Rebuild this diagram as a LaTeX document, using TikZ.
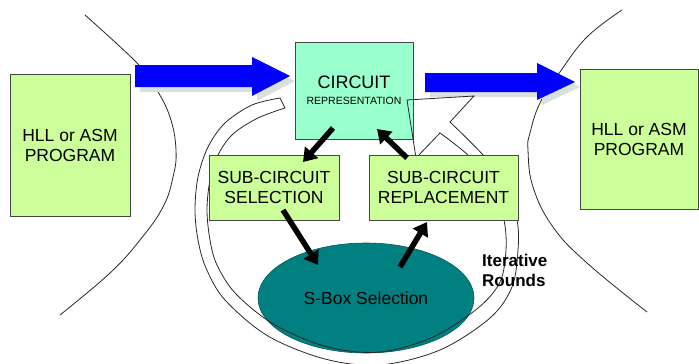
\documentclass[tikz,border=0pt]{standalone}
\usepackage{fontspec}
\setmainfont{Liberation Sans}
\usetikzlibrary{arrows.meta,shapes.geometric}
\definecolor{boxgreen}{RGB}{204,255,153}
\definecolor{circgreen}{RGB}{153,255,204}
\definecolor{sboxteal}{RGB}{0,128,128}
\definecolor{flowblue}{RGB}{0,0,255}
\definecolor{flowshadow}{RGB}{216,224,224}
\definecolor{edgegray}{RGB}{70,70,70}
\definecolor{inkgray}{RGB}{40,40,40}

\begin{document}
\begin{tikzpicture}[x=1pt,y=-1pt,
  stagebox/.style={draw=edgegray, line width=1pt, fill=boxgreen, align=center,
    inner sep=0pt, text=black, font=\fontsize{17.5}{20}\selectfont},
  circbox/.style={stagebox, fill=circgreen},
  flowarrow/.style={line width=5.5pt, -{Triangle[width=17pt,length=13pt]}},
  bigflow/.style={fill=flowblue},
  bigshadow/.style={fill=flowshadow},
  boundary/.style={draw=inkgray, line width=0.8pt},
  ringline/.style={draw=inkgray, line width=0.8pt},
  note/.style={font=\bfseries\fontsize{17}{20}\selectfont, align=left, inner sep=0pt}]

\useasboundingbox (0,0) rectangle (699,364);

% boundary curves on either side of the transformation stage
\draw[boundary] plot[smooth, tension=0.7] coordinates {(85,15) (137,63) (155,87) (170,117)
  (176,150) (173,177) (163,207) (140,240) (110,273) (60,315)};
\draw[boundary] plot[smooth, tension=0.7] coordinates {(622,10) (587,37) (560,72) (540,103)
  (530,133) (528,150) (533,187) (553,227) (587,263) (647,312)};

% program boxes
\node[stagebox, minimum width=120pt, minimum height=142pt] (hllL) at (70,145) {HLL or ASM\\PROGRAM};
\node[stagebox, minimum width=118pt, minimum height=140pt] (hllR) at (639,139) {HLL or ASM\\PROGRAM};

% wide flow arrows (shadow first)
\coordinate (inS) at (135,76);
\coordinate (outS) at (425,82.5);
\fill[bigshadow] ([shift={(5,5)}]inS) ++(0,-11) -- ++(117,0) -- ++(0,-8) -- ++(38,19)
  -- ++(-38,20) -- ++(0,-9) -- ++(-117,0) -- cycle;
\fill[bigflow] (inS) ++(0,-11) -- ++(117,0) -- ++(0,-8) -- ++(38,19)
  -- ++(-38,20) -- ++(0,-9) -- ++(-117,0) -- cycle;
\fill[bigshadow] ([shift={(5,5)}]outS) ++(0,-9.5) -- ++(112,0) -- ++(0,-10) -- ++(38,19)
  -- ++(-38,18) -- ++(0,-8) -- ++(-112,0) -- cycle;
\fill[bigflow] (outS) ++(0,-9.5) -- ++(112,0) -- ++(0,-10) -- ++(38,19)
  -- ++(-38,18) -- ++(0,-8) -- ++(-112,0) -- cycle;

% circuit representation
\node[circbox, minimum width=118pt, minimum height=97pt] (circ) at (354,90.5)
  {\fontsize{18}{20}\selectfont CIRCUIT\\[-4pt]{\fontsize{10.5}{12}\selectfont REPRESENTATION}};

% S-box selection
\node[ellipse, fill=sboxteal, draw=sboxteal!70!black, line width=0.6pt,
  minimum width=216pt, minimum height=110pt, inner sep=0pt,
  font=\fontsize{17.5}{20}\selectfont] (sbox) at (366,298) {S-Box Selection};

% iterative-rounds ring arrow
\draw[ringline]
  plot[smooth, tension=0.55] coordinates {(280,98) (252,105) (225,123) (208,147) (198,177)
    (195,210) (198,240) (206,268) (225,300) (268,336) (325,359) (380,365) (440,350)
    (490,318) (512,287) (518,250) (517,220) (505,185) (483,155) (450,122)}
  -- (474,96) -- (407,100) -- (416,158) -- (440,133)
  -- plot[smooth, tension=0.55] coordinates {(440,133) (470,157) (493,187) (504,220)
    (506,250) (500,282) (478,308) (433,337) (380,352) (328,347) (275,325) (236,294)
    (217,265) (210,240) (207,210) (210,180) (218,155) (233,134) (258,118) (285,108)}
  -- cycle;

% sub-circuit stages
\node[stagebox, minimum width=130pt, minimum height=65pt] (sel) at (274,187.5) {SUB-CIRCUIT\\SELECTION};
\node[stagebox, minimum width=149pt, minimum height=65pt] (rep) at (443.5,187.5) {SUB-CIRCUIT\\REPLACEMENT};

\node[note, anchor=west] (iter) at (482,270) {Iterative\\Rounds};

% step arrows between stages
\coordinate (c2sA) at (333,128);  \coordinate (c2sB) at (303,162);
\coordinate (r2cA) at (407,158);  \coordinate (r2cB) at (377,129);
\coordinate (s2bA) at (283,210);  \coordinate (s2bB) at (318,265);
\coordinate (b2rA) at (400,267);  \coordinate (b2rB) at (427,222);
\draw[flowarrow] (c2sA) -- (c2sB);
\draw[flowarrow] (r2cA) -- (r2cB);
\draw[flowarrow] (s2bA) -- (s2bB);
\draw[flowarrow] (b2rA) -- (b2rB);

\end{tikzpicture}
\end{document}
